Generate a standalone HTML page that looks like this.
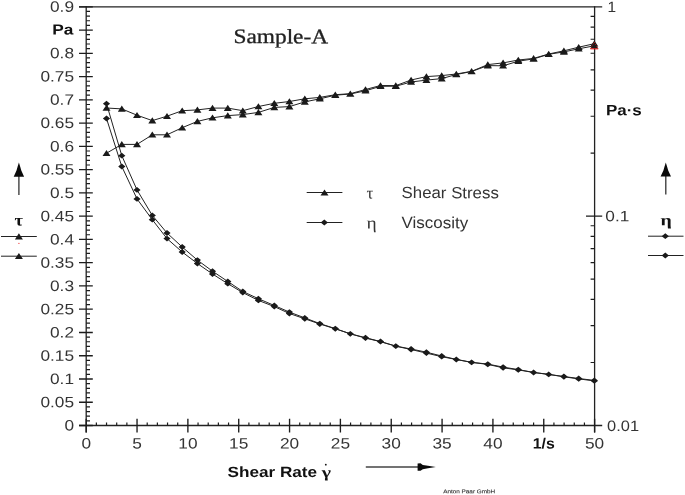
<!DOCTYPE html>
<html lang="en"><head><meta charset="utf-8"><title>Sample-A flow curve</title>
<style>html,body{margin:0;padding:0;background:#fff;}body{width:685px;height:495px;overflow:hidden;}svg{display:block;}</style>
</head><body>
<svg width="685" height="495" viewBox="0 0 685 495">
<defs><filter id="soft" x="0" y="0" width="100%" height="100%" filterUnits="userSpaceOnUse" color-interpolation-filters="sRGB"><feGaussianBlur stdDeviation="0.35"/></filter></defs>
<rect width="685" height="495" fill="#fff"/>
<g filter="url(#soft)">
<g stroke="#222" stroke-width="1.3" fill="none" stroke-linecap="butt">
<path d="M79 6.8H602.2"/>
<path d="M79 425.5H602.2"/>
<path d="M86.2 6.2V432.4"/>
<path d="M594.6 6.2V432.4"/>
</g>
<path stroke="#1c1c1c" stroke-width="1.35" fill="none" d="M79 425.50H92.8M79 402.24H92.8M79 378.98H92.8M79 355.72H92.8M79 332.46H92.8M79 309.19H92.8M79 285.93H92.8M79 262.67H92.8M79 239.41H92.8M79 216.15H92.8M79 192.89H92.8M79 169.63H92.8M79 146.37H92.8M79 123.11H92.8M79 99.84H92.8M79 76.58H92.8M79 53.32H92.8M79 30.06H92.8M79 6.80H92.8M86.20 418.8V432.4M137.04 418.8V432.4M187.88 418.8V432.4M238.72 418.8V432.4M289.56 418.8V432.4M340.40 418.8V432.4M391.24 418.8V432.4M442.08 418.8V432.4M492.92 418.8V432.4M543.76 418.8V432.4M594.60 418.8V432.4M586 216.15H602.2"/>
<path stroke="#1c1c1c" stroke-width="1.2" fill="none" d="M86.2 420.85H90M86.2 416.20H90M86.2 411.54H90M86.2 406.89H90M86.2 397.59H90M86.2 392.93H90M86.2 388.28H90M86.2 383.63H90M86.2 374.33H90M86.2 369.67H90M86.2 365.02H90M86.2 360.37H90M86.2 351.06H90M86.2 346.41H90M86.2 341.76H90M86.2 337.11H90M86.2 327.80H90M86.2 323.15H90M86.2 318.50H90M86.2 313.85H90M86.2 304.54H90M86.2 299.89H90M86.2 295.24H90M86.2 290.59H90M86.2 281.28H90M86.2 276.63H90M86.2 271.98H90M86.2 267.32H90M86.2 258.02H90M86.2 253.37H90M86.2 248.72H90M86.2 244.06H90M86.2 234.76H90M86.2 230.11H90M86.2 225.45H90M86.2 220.80H90M86.2 211.50H90M86.2 206.85H90M86.2 202.19H90M86.2 197.54H90M86.2 188.24H90M86.2 183.58H90M86.2 178.93H90M86.2 174.28H90M86.2 164.98H90M86.2 160.32H90M86.2 155.67H90M86.2 151.02H90M86.2 141.71H90M86.2 137.06H90M86.2 132.41H90M86.2 127.76H90M86.2 118.45H90M86.2 113.80H90M86.2 109.15H90M86.2 104.50H90M86.2 95.19H90M86.2 90.54H90M86.2 85.89H90M86.2 81.24H90M86.2 71.93H90M86.2 67.28H90M86.2 62.63H90M86.2 57.97H90M86.2 48.67H90M86.2 44.02H90M86.2 39.37H90M86.2 34.71H90M86.2 25.41H90M86.2 20.76H90M86.2 16.10H90M86.2 11.45H90M96.37 422.4V425.5M106.54 422.4V425.5M116.70 422.4V425.5M126.87 422.4V425.5M147.21 422.4V425.5M157.38 422.4V425.5M167.54 422.4V425.5M177.71 422.4V425.5M198.05 422.4V425.5M208.22 422.4V425.5M218.38 422.4V425.5M228.55 422.4V425.5M248.89 422.4V425.5M259.06 422.4V425.5M269.22 422.4V425.5M279.39 422.4V425.5M299.73 422.4V425.5M309.90 422.4V425.5M320.06 422.4V425.5M330.23 422.4V425.5M350.57 422.4V425.5M360.74 422.4V425.5M370.90 422.4V425.5M381.07 422.4V425.5M401.41 422.4V425.5M411.58 422.4V425.5M421.74 422.4V425.5M431.91 422.4V425.5M452.25 422.4V425.5M462.42 422.4V425.5M472.58 422.4V425.5M482.75 422.4V425.5M503.09 422.4V425.5M513.26 422.4V425.5M523.42 422.4V425.5M533.59 422.4V425.5M553.93 422.4V425.5M564.10 422.4V425.5M574.26 422.4V425.5M584.43 422.4V425.5M590.6 153.13H594.6M590.6 116.26H594.6M590.6 90.11H594.6M590.6 69.82H594.6M590.6 53.24H594.6M590.6 39.23H594.6M590.6 27.09H594.6M590.6 16.38H594.6M590.6 362.48H594.6M590.6 325.61H594.6M590.6 299.46H594.6M590.6 279.17H594.6M590.6 262.59H594.6M590.6 248.58H594.6M590.6 236.44H594.6M590.6 225.73H594.6"/>
<g stroke="#222" stroke-width="1" fill="none" stroke-linejoin="round">
<path d="M106.5 108.0L121.8 108.9L137.0 115.2L152.3 120.6L167.0 116.2L182.2 110.7L197.4 109.9L212.5 108.1L227.8 108.1L242.8 110.7L258.4 106.5L274.3 103.3L289.4 101.5L304.8 98.8L319.8 97.4L335.3 94.7L350.3 93.7L365.5 89.5L380.5 85.5L395.8 85.6L411.1 80.0L426.4 76.6L441.7 75.6L456.3 74.0L471.6 71.3L487.8 64.6L503.1 62.9L518.3 60.0L533.6 58.4L548.7 54.0L563.9 50.8L578.7 47.2L594.3 43.7"/>
<path d="M106.5 153.2L121.8 144.4L137.0 144.4L152.3 134.8L167.0 134.8L182.2 127.7L197.4 121.4L212.5 117.8L227.8 115.6L242.8 114.6L258.4 112.4L274.3 107.4L289.4 106.6L304.8 101.9L319.8 98.8L335.3 95.2L350.3 94.0L365.5 90.8L380.5 86.3L395.8 86.2L411.1 82.0L426.4 80.1L441.7 78.6L456.3 74.5L471.6 71.5L487.8 65.6L503.1 65.8L518.3 61.2L533.6 58.9L548.7 54.3L563.9 51.9L578.7 48.8L594.3 45.8"/>
<path d="M106.5 103.7L121.8 155.7L137.0 189.9L152.3 215.4L167.0 233.0L182.2 247.0L197.4 260.1L212.5 271.2L227.8 281.5L242.8 291.5L258.4 298.7L274.3 305.5L289.4 312.1L304.8 317.9L319.8 323.6L335.3 328.6L350.3 333.8L365.5 337.7L380.5 341.5L395.8 346.1L411.1 349.0L426.4 352.2L441.7 356.0L456.3 359.4L471.6 362.3L487.8 364.1L503.1 367.1L518.3 369.6L533.6 372.4L548.7 374.4L563.9 376.5L578.7 378.5L594.3 380.4"/>
<path d="M106.5 118.5L121.8 166.5L137.0 198.9L152.3 219.7L167.0 238.6L182.2 252.0L197.4 263.5L212.5 274.0L227.8 283.7L242.8 292.6L258.4 300.4L274.3 306.6L289.4 313.5L304.8 318.8L319.8 324.0L335.3 328.8L350.3 333.8L365.5 338.1L380.5 341.7L395.8 346.2L411.1 349.5L426.4 353.1L441.7 356.7L456.3 359.5L471.6 362.4L487.8 364.4L503.1 367.8L518.3 369.9L533.6 372.5L548.7 374.4L563.9 376.8L578.7 378.9L594.3 380.9"/>
</g>
<path fill="#1a1a1a" d="M106.5 104.7L110.5 110.8H102.5ZM121.8 105.6L125.8 111.7H117.8ZM137.0 111.9L141.0 118.0H133.0ZM152.3 117.3L156.3 123.4H148.3ZM167.0 112.9L171.0 119.0H163.0ZM182.2 107.4L186.2 113.5H178.2ZM197.4 106.6L201.4 112.7H193.4ZM212.5 104.8L216.5 110.9H208.5ZM227.8 104.8L231.8 110.9H223.8ZM242.8 107.4L246.8 113.5H238.8ZM258.4 103.2L262.4 109.3H254.4ZM274.3 100.0L278.3 106.1H270.3ZM289.4 98.2L293.4 104.3H285.4ZM304.8 95.5L308.8 101.6H300.8ZM319.8 94.1L323.8 100.2H315.8ZM335.3 91.4L339.3 97.5H331.3ZM350.3 90.4L354.3 96.5H346.3ZM365.5 86.2L369.5 92.3H361.5ZM380.5 82.2L384.5 88.3H376.5ZM395.8 82.3L399.8 88.4H391.8ZM411.1 76.7L415.1 82.8H407.1ZM426.4 73.3L430.4 79.4H422.4ZM441.7 72.3L445.7 78.4H437.7ZM456.3 70.7L460.3 76.8H452.3ZM471.6 68.0L475.6 74.1H467.6ZM487.8 61.3L491.8 67.4H483.8ZM503.1 59.6L507.1 65.7H499.1ZM518.3 56.7L522.3 62.8H514.3ZM533.6 55.1L537.6 61.2H529.6ZM548.7 50.7L552.7 56.8H544.7ZM563.9 47.5L567.9 53.6H559.9ZM578.7 43.9L582.7 50.0H574.7ZM594.3 40.4L598.3 46.5H590.3ZM106.5 149.9L110.5 156.0H102.5ZM121.8 141.1L125.8 147.2H117.8ZM137.0 141.1L141.0 147.2H133.0ZM152.3 131.5L156.3 137.6H148.3ZM167.0 131.5L171.0 137.6H163.0ZM182.2 124.4L186.2 130.5H178.2ZM197.4 118.1L201.4 124.2H193.4ZM212.5 114.5L216.5 120.6H208.5ZM227.8 112.3L231.8 118.4H223.8ZM242.8 111.3L246.8 117.4H238.8ZM258.4 109.1L262.4 115.2H254.4ZM274.3 104.1L278.3 110.2H270.3ZM289.4 103.3L293.4 109.4H285.4ZM304.8 98.6L308.8 104.7H300.8ZM319.8 95.5L323.8 101.6H315.8ZM335.3 91.9L339.3 98.0H331.3ZM350.3 90.7L354.3 96.8H346.3ZM365.5 87.5L369.5 93.6H361.5ZM380.5 83.0L384.5 89.1H376.5ZM395.8 82.9L399.8 89.0H391.8ZM411.1 78.7L415.1 84.8H407.1ZM426.4 76.8L430.4 82.9H422.4ZM441.7 75.3L445.7 81.4H437.7ZM456.3 71.2L460.3 77.3H452.3ZM471.6 68.2L475.6 74.3H467.6ZM487.8 62.3L491.8 68.4H483.8ZM503.1 62.5L507.1 68.6H499.1ZM518.3 57.9L522.3 64.0H514.3ZM533.6 55.6L537.6 61.7H529.6ZM548.7 51.0L552.7 57.1H544.7ZM563.9 48.6L567.9 54.7H559.9ZM578.7 45.5L582.7 51.6H574.7ZM594.3 42.5L598.3 48.6H590.3Z"/>
<path fill="#1a1a1a" d="M106.5 100.8L110.1 103.7L106.5 106.6L102.9 103.7ZM121.8 152.8L125.4 155.7L121.8 158.6L118.2 155.7ZM137.0 187.0L140.6 189.9L137.0 192.8L133.4 189.9ZM152.3 212.5L155.9 215.4L152.3 218.3L148.7 215.4ZM167.0 230.1L170.6 233.0L167.0 235.9L163.4 233.0ZM182.2 244.1L185.8 247.0L182.2 249.9L178.6 247.0ZM197.4 257.2L201.0 260.1L197.4 263.0L193.8 260.1ZM212.5 268.3L216.1 271.2L212.5 274.1L208.9 271.2ZM227.8 278.6L231.4 281.5L227.8 284.4L224.2 281.5ZM242.8 288.6L246.4 291.5L242.8 294.4L239.2 291.5ZM258.4 295.8L262.0 298.7L258.4 301.6L254.8 298.7ZM274.3 302.6L277.9 305.5L274.3 308.4L270.7 305.5ZM289.4 309.2L293.0 312.1L289.4 315.0L285.8 312.1ZM304.8 315.0L308.4 317.9L304.8 320.8L301.2 317.9ZM319.8 320.7L323.4 323.6L319.8 326.5L316.2 323.6ZM335.3 325.7L338.9 328.6L335.3 331.5L331.7 328.6ZM350.3 330.9L353.9 333.8L350.3 336.7L346.7 333.8ZM365.5 334.8L369.1 337.7L365.5 340.6L361.9 337.7ZM380.5 338.6L384.1 341.5L380.5 344.4L376.9 341.5ZM395.8 343.2L399.4 346.1L395.8 349.0L392.2 346.1ZM411.1 346.1L414.7 349.0L411.1 351.9L407.5 349.0ZM426.4 349.3L430.0 352.2L426.4 355.1L422.8 352.2ZM441.7 353.1L445.3 356.0L441.7 358.9L438.1 356.0ZM456.3 356.5L459.9 359.4L456.3 362.3L452.7 359.4ZM471.6 359.4L475.2 362.3L471.6 365.2L468.0 362.3ZM487.8 361.2L491.4 364.1L487.8 367.0L484.2 364.1ZM503.1 364.2L506.7 367.1L503.1 370.0L499.5 367.1ZM518.3 366.7L521.9 369.6L518.3 372.5L514.7 369.6ZM533.6 369.5L537.2 372.4L533.6 375.3L530.0 372.4ZM548.7 371.5L552.3 374.4L548.7 377.3L545.1 374.4ZM563.9 373.6L567.5 376.5L563.9 379.4L560.3 376.5ZM578.7 375.6L582.3 378.5L578.7 381.4L575.1 378.5ZM594.3 377.5L597.9 380.4L594.3 383.3L590.7 380.4ZM106.5 115.6L110.1 118.5L106.5 121.4L102.9 118.5ZM121.8 163.6L125.4 166.5L121.8 169.4L118.2 166.5ZM137.0 196.0L140.6 198.9L137.0 201.8L133.4 198.9ZM152.3 216.8L155.9 219.7L152.3 222.6L148.7 219.7ZM167.0 235.7L170.6 238.6L167.0 241.5L163.4 238.6ZM182.2 249.1L185.8 252.0L182.2 254.9L178.6 252.0ZM197.4 260.6L201.0 263.5L197.4 266.4L193.8 263.5ZM212.5 271.1L216.1 274.0L212.5 276.9L208.9 274.0ZM227.8 280.8L231.4 283.7L227.8 286.6L224.2 283.7ZM242.8 289.7L246.4 292.6L242.8 295.5L239.2 292.6ZM258.4 297.5L262.0 300.4L258.4 303.3L254.8 300.4ZM274.3 303.7L277.9 306.6L274.3 309.5L270.7 306.6ZM289.4 310.6L293.0 313.5L289.4 316.4L285.8 313.5ZM304.8 315.9L308.4 318.8L304.8 321.7L301.2 318.8ZM319.8 321.1L323.4 324.0L319.8 326.9L316.2 324.0ZM335.3 325.9L338.9 328.8L335.3 331.7L331.7 328.8ZM350.3 330.9L353.9 333.8L350.3 336.7L346.7 333.8ZM365.5 335.2L369.1 338.1L365.5 341.0L361.9 338.1ZM380.5 338.8L384.1 341.7L380.5 344.6L376.9 341.7ZM395.8 343.3L399.4 346.2L395.8 349.1L392.2 346.2ZM411.1 346.6L414.7 349.5L411.1 352.4L407.5 349.5ZM426.4 350.2L430.0 353.1L426.4 356.0L422.8 353.1ZM441.7 353.8L445.3 356.7L441.7 359.6L438.1 356.7ZM456.3 356.6L459.9 359.5L456.3 362.4L452.7 359.5ZM471.6 359.5L475.2 362.4L471.6 365.3L468.0 362.4ZM487.8 361.5L491.4 364.4L487.8 367.3L484.2 364.4ZM503.1 364.9L506.7 367.8L503.1 370.7L499.5 367.8ZM518.3 367.0L521.9 369.9L518.3 372.8L514.7 369.9ZM533.6 369.6L537.2 372.5L533.6 375.4L530.0 372.5ZM548.7 371.5L552.3 374.4L548.7 377.3L545.1 374.4ZM563.9 373.9L567.5 376.8L563.9 379.7L560.3 376.8ZM578.7 376.0L582.3 378.9L578.7 381.8L575.1 378.9ZM594.3 378.0L597.9 380.9L594.3 383.8L590.7 380.9Z"/>
<path d="M590.4 48.8H598.2" stroke="#e01818" stroke-width="1.1"/>
<path d="M590.6 48.5L594.3 42.2L598.0 48.5" stroke="#e01818" stroke-width="0.9" stroke-dasharray="1 1.4" fill="none"/>
<text x="64.409" y="430.5" font-family="Liberation Sans, Arial, sans-serif" font-size="15" font-weight="normal" fill="#333" text-anchor="start" textLength="9.6" lengthAdjust="spacingAndGlyphs" transform="rotate(0.05 64.409 430.5)">0</text>
<text x="40.4315" y="407.2" font-family="Liberation Sans, Arial, sans-serif" font-size="15" font-weight="normal" fill="#333" text-anchor="start" textLength="33.6" lengthAdjust="spacingAndGlyphs" transform="rotate(0.05 40.4315 407.2)">0.05</text>
<text x="50.0225" y="384.0" font-family="Liberation Sans, Arial, sans-serif" font-size="15" font-weight="normal" fill="#333" text-anchor="start" textLength="24.0" lengthAdjust="spacingAndGlyphs" transform="rotate(0.05 50.0225 384.0)">0.1</text>
<text x="40.4315" y="360.7" font-family="Liberation Sans, Arial, sans-serif" font-size="15" font-weight="normal" fill="#333" text-anchor="start" textLength="33.6" lengthAdjust="spacingAndGlyphs" transform="rotate(0.05 40.4315 360.7)">0.15</text>
<text x="50.0225" y="337.5" font-family="Liberation Sans, Arial, sans-serif" font-size="15" font-weight="normal" fill="#333" text-anchor="start" textLength="24.0" lengthAdjust="spacingAndGlyphs" transform="rotate(0.05 50.0225 337.5)">0.2</text>
<text x="40.4315" y="314.2" font-family="Liberation Sans, Arial, sans-serif" font-size="15" font-weight="normal" fill="#333" text-anchor="start" textLength="33.6" lengthAdjust="spacingAndGlyphs" transform="rotate(0.05 40.4315 314.2)">0.25</text>
<text x="50.0225" y="290.9" font-family="Liberation Sans, Arial, sans-serif" font-size="15" font-weight="normal" fill="#333" text-anchor="start" textLength="24.0" lengthAdjust="spacingAndGlyphs" transform="rotate(0.05 50.0225 290.9)">0.3</text>
<text x="40.4315" y="267.7" font-family="Liberation Sans, Arial, sans-serif" font-size="15" font-weight="normal" fill="#333" text-anchor="start" textLength="33.6" lengthAdjust="spacingAndGlyphs" transform="rotate(0.05 40.4315 267.7)">0.35</text>
<text x="50.0225" y="244.4" font-family="Liberation Sans, Arial, sans-serif" font-size="15" font-weight="normal" fill="#333" text-anchor="start" textLength="24.0" lengthAdjust="spacingAndGlyphs" transform="rotate(0.05 50.0225 244.4)">0.4</text>
<text x="40.4315" y="221.2" font-family="Liberation Sans, Arial, sans-serif" font-size="15" font-weight="normal" fill="#333" text-anchor="start" textLength="33.6" lengthAdjust="spacingAndGlyphs" transform="rotate(0.05 40.4315 221.2)">0.45</text>
<text x="50.0225" y="197.9" font-family="Liberation Sans, Arial, sans-serif" font-size="15" font-weight="normal" fill="#333" text-anchor="start" textLength="24.0" lengthAdjust="spacingAndGlyphs" transform="rotate(0.05 50.0225 197.9)">0.5</text>
<text x="40.4315" y="174.6" font-family="Liberation Sans, Arial, sans-serif" font-size="15" font-weight="normal" fill="#333" text-anchor="start" textLength="33.6" lengthAdjust="spacingAndGlyphs" transform="rotate(0.05 40.4315 174.6)">0.55</text>
<text x="50.0225" y="151.4" font-family="Liberation Sans, Arial, sans-serif" font-size="15" font-weight="normal" fill="#333" text-anchor="start" textLength="24.0" lengthAdjust="spacingAndGlyphs" transform="rotate(0.05 50.0225 151.4)">0.6</text>
<text x="40.4315" y="128.1" font-family="Liberation Sans, Arial, sans-serif" font-size="15" font-weight="normal" fill="#333" text-anchor="start" textLength="33.6" lengthAdjust="spacingAndGlyphs" transform="rotate(0.05 40.4315 128.1)">0.65</text>
<text x="50.0225" y="104.8" font-family="Liberation Sans, Arial, sans-serif" font-size="15" font-weight="normal" fill="#333" text-anchor="start" textLength="24.0" lengthAdjust="spacingAndGlyphs" transform="rotate(0.05 50.0225 104.8)">0.7</text>
<text x="40.4315" y="81.6" font-family="Liberation Sans, Arial, sans-serif" font-size="15" font-weight="normal" fill="#333" text-anchor="start" textLength="33.6" lengthAdjust="spacingAndGlyphs" transform="rotate(0.05 40.4315 81.6)">0.75</text>
<text x="50.0225" y="58.3" font-family="Liberation Sans, Arial, sans-serif" font-size="15" font-weight="normal" fill="#333" text-anchor="start" textLength="24.0" lengthAdjust="spacingAndGlyphs" transform="rotate(0.05 50.0225 58.3)">0.8</text>
<text x="52.303250000000006" y="34.4" font-family="Liberation Sans, Arial, sans-serif" font-size="14.6" font-weight="bold" fill="#111" text-anchor="start" textLength="21.1" lengthAdjust="spacingAndGlyphs" transform="rotate(0.05 52.303250000000006 34.4)">Pa</text>
<text x="50.0225" y="11.8" font-family="Liberation Sans, Arial, sans-serif" font-size="15" font-weight="normal" fill="#333" text-anchor="start" textLength="24.0" lengthAdjust="spacingAndGlyphs" transform="rotate(0.05 50.0225 11.8)">0.9</text>
<text x="81.4" y="448.6" font-family="Liberation Sans, Arial, sans-serif" font-size="15" font-weight="normal" fill="#333" text-anchor="start" textLength="9.6" lengthAdjust="spacingAndGlyphs" transform="rotate(0.05 81.4 448.6)">0</text>
<text x="132.2" y="448.6" font-family="Liberation Sans, Arial, sans-serif" font-size="15" font-weight="normal" fill="#333" text-anchor="start" textLength="9.6" lengthAdjust="spacingAndGlyphs" transform="rotate(0.05 132.2 448.6)">5</text>
<text x="178.3" y="448.6" font-family="Liberation Sans, Arial, sans-serif" font-size="15" font-weight="normal" fill="#333" text-anchor="start" textLength="19.2" lengthAdjust="spacingAndGlyphs" transform="rotate(0.05 178.3 448.6)">10</text>
<text x="229.1" y="448.6" font-family="Liberation Sans, Arial, sans-serif" font-size="15" font-weight="normal" fill="#333" text-anchor="start" textLength="19.2" lengthAdjust="spacingAndGlyphs" transform="rotate(0.05 229.1 448.6)">15</text>
<text x="280.0" y="448.6" font-family="Liberation Sans, Arial, sans-serif" font-size="15" font-weight="normal" fill="#333" text-anchor="start" textLength="19.2" lengthAdjust="spacingAndGlyphs" transform="rotate(0.05 280.0 448.6)">20</text>
<text x="330.8" y="448.6" font-family="Liberation Sans, Arial, sans-serif" font-size="15" font-weight="normal" fill="#333" text-anchor="start" textLength="19.2" lengthAdjust="spacingAndGlyphs" transform="rotate(0.05 330.8 448.6)">25</text>
<text x="381.6" y="448.6" font-family="Liberation Sans, Arial, sans-serif" font-size="15" font-weight="normal" fill="#333" text-anchor="start" textLength="19.2" lengthAdjust="spacingAndGlyphs" transform="rotate(0.05 381.6 448.6)">30</text>
<text x="432.5" y="448.6" font-family="Liberation Sans, Arial, sans-serif" font-size="15" font-weight="normal" fill="#333" text-anchor="start" textLength="19.2" lengthAdjust="spacingAndGlyphs" transform="rotate(0.05 432.5 448.6)">35</text>
<text x="483.3" y="448.6" font-family="Liberation Sans, Arial, sans-serif" font-size="15" font-weight="normal" fill="#333" text-anchor="start" textLength="19.2" lengthAdjust="spacingAndGlyphs" transform="rotate(0.05 483.3 448.6)">40</text>
<text x="532.8" y="448.6" font-family="Liberation Sans, Arial, sans-serif" font-size="15" font-weight="bold" fill="#111" text-anchor="start" textLength="22" lengthAdjust="spacingAndGlyphs" transform="rotate(0.05 532.8 448.6)">1/s</text>
<text x="585.0" y="448.6" font-family="Liberation Sans, Arial, sans-serif" font-size="15" font-weight="normal" fill="#333" text-anchor="start" textLength="19.2" lengthAdjust="spacingAndGlyphs" transform="rotate(0.05 585.0 448.6)">50</text>
<text x="607.4" y="12.0" font-family="Liberation Sans, Arial, sans-serif" font-size="15" font-weight="normal" fill="#333" text-anchor="start" textLength="8.6" lengthAdjust="spacingAndGlyphs" transform="rotate(0.05 607.4 12.0)">1</text>
<text x="605.3" y="221.3" font-family="Liberation Sans, Arial, sans-serif" font-size="15" font-weight="normal" fill="#333" text-anchor="start" textLength="24.0" lengthAdjust="spacingAndGlyphs" transform="rotate(0.05 605.3 221.3)">0.1</text>
<text x="607.1" y="430.9" font-family="Liberation Sans, Arial, sans-serif" font-size="15" font-weight="normal" fill="#333" text-anchor="start" textLength="32" lengthAdjust="spacingAndGlyphs" transform="rotate(0.05 607.1 430.9)">0.01</text>
<text x="606" y="115.3" font-family="Liberation Sans, Arial, sans-serif" font-size="15" font-weight="bold" fill="#111" text-anchor="start" textLength="35.8" lengthAdjust="spacingAndGlyphs" transform="rotate(0.05 606 115.3)">Pa·s</text>
<text x="233.5" y="43.1" font-family="Liberation Serif, Times New Roman, serif" font-size="20.5" font-weight="normal" fill="#222" text-anchor="start" textLength="94.6" lengthAdjust="spacingAndGlyphs" stroke="#222" stroke-width="0.3" transform="rotate(0.05 233.5 43.1)">Sample-A</text>
<path d="M306.7 192.5H342.4M306.7 222.5H342.4" stroke="#222" stroke-width="1" fill="none"/>
<path fill="#1a1a1a" d="M324.5 189.4L328.5 195.5H320.5ZM324.3 219.6L327.9 222.5L324.3 225.4L320.7 222.5Z"/>
<text x="366.6" y="198.6" font-family="Liberation Serif, Times New Roman, serif" font-size="17" font-weight="normal" fill="#333" text-anchor="start" textLength="6.8" lengthAdjust="spacingAndGlyphs" transform="rotate(0.05 366.6 198.6)">τ</text>
<text x="366.6" y="228.6" font-family="Liberation Serif, Times New Roman, serif" font-size="17" font-weight="normal" fill="#333" text-anchor="start" textLength="10.2" lengthAdjust="spacingAndGlyphs" transform="rotate(0.05 366.6 228.6)">η</text>
<text x="401.6" y="198.1" font-family="Liberation Sans, Arial, sans-serif" font-size="16.2" font-weight="normal" fill="#333" text-anchor="start" textLength="97.2" lengthAdjust="spacingAndGlyphs" transform="rotate(0.05 401.6 198.1)">Shear Stress</text>
<text x="401.6" y="228.1" font-family="Liberation Sans, Arial, sans-serif" font-size="16.2" font-weight="normal" fill="#333" text-anchor="start" textLength="66.6" lengthAdjust="spacingAndGlyphs" transform="rotate(0.05 401.6 228.1)">Viscosity</text>
<path d="M18.9 176V195" stroke="#333" stroke-width="1.3"/><path d="M18.9 162.6L20.3 167L21.3 170.5L24.1 176.8H13.7L16.5 170.5L17.5 167Z" fill="#0a0a0a"/>
<text x="14.4" y="225.4" font-family="Liberation Serif, Times New Roman, serif" font-size="16.5" font-weight="bold" fill="#111" text-anchor="start" textLength="8.5" lengthAdjust="spacingAndGlyphs" transform="rotate(0.05 14.4 225.4)">τ</text>
<path d="M1 236.5H36.8M1 256.2H36.8" stroke="#222" stroke-width="1" fill="none"/>
<path fill="#1a1a1a" d="M18.9 233.3L22.9 239.4H14.9ZM18.9 253.0L22.9 259.1H14.9Z"/>
<rect x="18.3" y="242.9" width="1.2" height="1" fill="#f04040"/>
<path d="M665.8 176V194.5" stroke="#333" stroke-width="1.3"/><path d="M665.8 162.6L667.2 167L668.2 170.5L671 176.6H660.6L663.4 170.5L664.4 167Z" fill="#0a0a0a"/>
<text x="660.4" y="225.2" font-family="Liberation Serif, Times New Roman, serif" font-size="15.4" font-weight="bold" fill="#111" text-anchor="start" textLength="11.3" lengthAdjust="spacingAndGlyphs" transform="rotate(0.05 660.4 225.2)">η</text>
<path d="M648 236.2H683.5M648 255.5H683.5" stroke="#222" stroke-width="1" fill="none"/>
<path fill="#1a1a1a" d="M665.3 233.3L668.9 236.2L665.3 239.1L661.7 236.2ZM665.3 252.6L668.9 255.5L665.3 258.4L661.7 255.5Z"/>
<text x="227.5" y="477.0" font-family="Liberation Sans, Arial, sans-serif" font-size="14.8" font-weight="bold" fill="#111" text-anchor="start" textLength="89.6" lengthAdjust="spacingAndGlyphs" transform="rotate(0.05 227.5 477.0)">Shear Rate</text>
<text x="321.7" y="477.2" font-family="Liberation Serif, Times New Roman, serif" font-size="15.1" font-weight="bold" fill="#111" text-anchor="start" textLength="9.2" lengthAdjust="spacingAndGlyphs" transform="rotate(0.05 321.7 477.2)">γ</text>
<circle cx="325.8" cy="464.7" r="0.9" fill="#111"/>
<path d="M365.8 467H420" stroke="#444" stroke-width="1.3"/><path d="M417.6 463.4L420.5 463.3L422.8 465L428 465.7L435.8 467L428 468.2L422.8 469.2L420.5 470.8L417.6 470.7Z" fill="#0a0a0a"/>
<text x="443.2" y="493.3" font-family="Liberation Sans, Arial, sans-serif" font-size="5.4" font-weight="normal" fill="#333" text-anchor="start" textLength="52" lengthAdjust="spacingAndGlyphs" stroke="#333" stroke-width="0.12" transform="rotate(0.05 443.2 493.3)">Anton Paar GmbH</text>
</g>
</svg>
</body></html>
